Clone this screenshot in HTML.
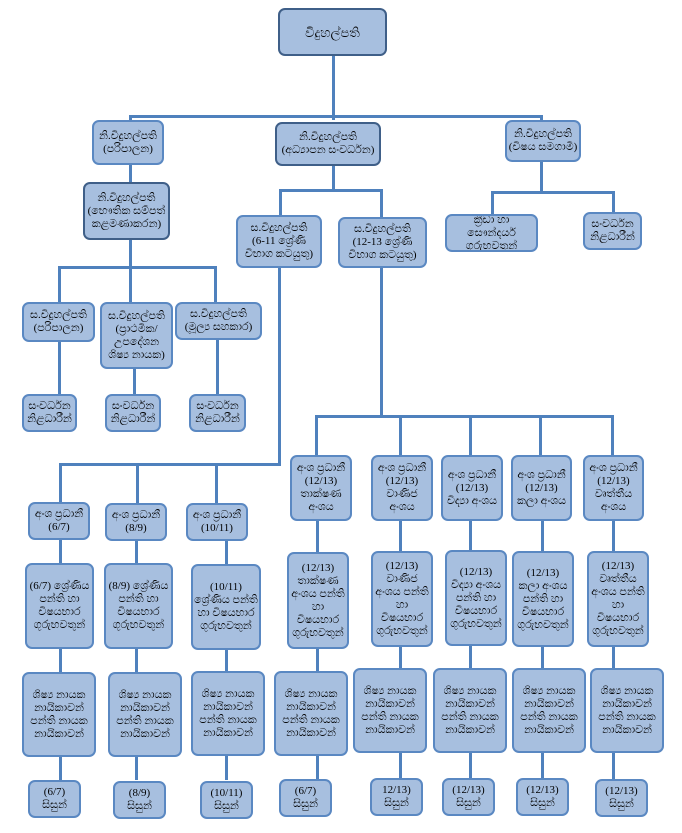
<!DOCTYPE html>
<html><head><meta charset="utf-8">
<style>
body{margin:0;width:682px;height:833px;background:#fff;position:relative;overflow:hidden;font-family:"Liberation Serif","Noto Sans CJK SC",serif;}
.b{position:absolute;box-sizing:border-box;background:#a7bfdf;border:2px solid #5a88c2;border-radius:7px;font-size:11px;line-height:13px;text-align:center;color:#000;display:flex;align-items:center;justify-content:center;overflow:hidden;padding:1px}
.d{border-color:#3f5f88;}
.l{position:absolute;background:#4f81bd;}
</style></head><body>
<div class="l" style="left:332px;top:55px;width:3px;height:65px"></div>
<div class="l" style="left:129px;top:115px;width:414px;height:3px"></div>
<div class="l" style="left:129px;top:115px;width:3px;height:7px"></div>
<div class="l" style="left:540px;top:115px;width:3px;height:7px"></div>
<div class="l" style="left:129px;top:164px;width:3px;height:20px"></div>
<div class="l" style="left:129px;top:240px;width:3px;height:28px"></div>
<div class="l" style="left:58px;top:266px;width:159px;height:3px"></div>
<div class="l" style="left:58px;top:266px;width:3px;height:37px"></div>
<div class="l" style="left:129px;top:266px;width:3px;height:37px"></div>
<div class="l" style="left:214px;top:266px;width:3px;height:37px"></div>
<div class="l" style="left:58px;top:342px;width:3px;height:54px"></div>
<div class="l" style="left:133px;top:369px;width:3px;height:27px"></div>
<div class="l" style="left:216px;top:340px;width:3px;height:56px"></div>
<div class="l" style="left:332px;top:165px;width:3px;height:26px"></div>
<div class="l" style="left:279px;top:189px;width:104px;height:3px"></div>
<div class="l" style="left:279px;top:189px;width:3px;height:27px"></div>
<div class="l" style="left:380px;top:189px;width:3px;height:29px"></div>
<div class="l" style="left:540px;top:162px;width:3px;height:31px"></div>
<div class="l" style="left:491px;top:191px;width:124px;height:3px"></div>
<div class="l" style="left:491px;top:191px;width:3px;height:25px"></div>
<div class="l" style="left:612px;top:191px;width:3px;height:23px"></div>
<div class="l" style="left:278px;top:267px;width:3px;height:198px"></div>
<div class="l" style="left:59px;top:463px;width:222px;height:3px"></div>
<div class="l" style="left:59px;top:463px;width:3px;height:40px"></div>
<div class="l" style="left:136px;top:463px;width:3px;height:40px"></div>
<div class="l" style="left:215px;top:463px;width:3px;height:40px"></div>
<div class="l" style="left:380px;top:267px;width:3px;height:150px"></div>
<div class="l" style="left:315px;top:415px;width:299px;height:3px"></div>
<div class="l" style="left:315px;top:415px;width:3px;height:41px"></div>
<div class="l" style="left:399px;top:415px;width:3px;height:41px"></div>
<div class="l" style="left:469px;top:415px;width:3px;height:41px"></div>
<div class="l" style="left:539px;top:415px;width:3px;height:41px"></div>
<div class="l" style="left:611px;top:415px;width:3px;height:41px"></div>
<div class="l" style="left:59px;top:538px;width:3px;height:242px"></div>
<div class="l" style="left:135px;top:540px;width:3px;height:240px"></div>
<div class="l" style="left:225px;top:540px;width:3px;height:240px"></div>
<div class="l" style="left:316px;top:519px;width:3px;height:260px"></div>
<div class="l" style="left:399px;top:519px;width:3px;height:260px"></div>
<div class="l" style="left:469px;top:519px;width:3px;height:260px"></div>
<div class="l" style="left:541px;top:519px;width:3px;height:260px"></div>
<div class="l" style="left:612px;top:519px;width:3px;height:260px"></div>

<div class="b d" style="left:278px;top:8px;width:109px;height:48px;font-size:13px">විදුහල්පති</div>
<div class="b" style="left:92px;top:120px;width:72px;height:45px">නි.විදුහල්පති<br>(පරිපාලන)</div>
<div class="b d" style="left:275px;top:122px;width:106px;height:44px">නි.විදුහල්පති<br>(අධ්‍යාපන සංවර්ධන)</div>
<div class="b" style="left:505px;top:120px;width:76px;height:42px">නි.විදුහල්පති<br>(විෂය සමගාමී)</div>
<div class="b d" style="left:83px;top:182px;width:87px;height:58px">නි.විදුහල්පති<br>(භෞතික සම්පත් කළමණාකරන)</div>
<div class="b" style="left:236px;top:215px;width:86px;height:53px">ස.විදුහල්පති<br>(6-11 ශ්‍රේණි විභාග කටයුතු)</div>
<div class="b" style="left:338px;top:217px;width:89px;height:51px">ස.විදුහල්පති<br>(12-13 ශ්‍රේණි විභාග කටයුතු)</div>
<div class="b" style="left:445px;top:214px;width:93px;height:38px">ක්‍රීඩා හා සෞන්දර්ය ගුරුභවතුන්</div>
<div class="b" style="left:583px;top:212px;width:59px;height:38px">සංවර්ධන නිළධාරීන්</div>
<div class="b" style="left:22px;top:302px;width:73px;height:40px">ස.විදුහල්පති<br>(පරිපාලන)</div>
<div class="b" style="left:100px;top:302px;width:73px;height:67px">ස.විදුහල්පති<br>(ප්‍රාථමික/ උපදේශන ශිෂ්‍ය නායක)</div>
<div class="b" style="left:175px;top:302px;width:87px;height:38px">ස.විදුහල්පති<br>(මූල්‍ය සහකාර)</div>
<div class="b" style="left:22px;top:394px;width:55px;height:38px">සංවර්ධන නිළධාරීන්</div>
<div class="b" style="left:105px;top:394px;width:56px;height:38px">සංවර්ධන නිළධාරීන්</div>
<div class="b" style="left:189px;top:394px;width:57px;height:38px">සංවර්ධන නිළධාරීන්</div>

<div class="b" style="left:28px;top:502px;width:62px;height:38px">අංශ ප්‍රධානී<br>(6/7)</div>
<div class="b" style="left:105px;top:503px;width:62px;height:38px">අංශ ප්‍රධානී<br>(8/9)</div>
<div class="b" style="left:186px;top:503px;width:62px;height:38px">අංශ ප්‍රධානී<br>(10/11)</div>
<div class="b" style="left:290px;top:455px;width:62px;height:66px">අංශ ප්‍රධානී (12/13) තාක්ෂණ අංශය</div>
<div class="b" style="left:371px;top:455px;width:62px;height:66px">අංශ ප්‍රධානී (12/13) වාණිජ අංශය</div>
<div class="b" style="left:441px;top:455px;width:62px;height:66px">අංශ ප්‍රධානී (12/13) විද්‍යා අංශය</div>
<div class="b" style="left:511px;top:455px;width:61px;height:66px">අංශ ප්‍රධානී (12/13) කලා අංශය</div>
<div class="b" style="left:583px;top:455px;width:61px;height:66px">අංශ ප්‍රධානී (12/13) වෘත්තීය අංශය</div>

<div class="b" style="left:25px;top:563px;width:69px;height:86px">(6/7) ශ්‍රේණිය පන්ති හා විෂයභාර ගුරුභවතුන්</div>
<div class="b" style="left:104px;top:563px;width:69px;height:86px">(8/9) ශ්‍රේණිය පන්ති හා විෂයභාර ගුරුභවතුන්</div>
<div class="b" style="left:191px;top:564px;width:70px;height:86px">(10/11) ශ්‍රේණිය පන්ති හා විෂයභාර ගුරුභවතුන්</div>
<div class="b" style="left:287px;top:552px;width:62px;height:97px">(12/13) තාක්ෂණ අංශය පන්ති හා විෂයභාර ගුරුභවතුන්</div>
<div class="b" style="left:371px;top:551px;width:62px;height:96px">(12/13) වාණිජ අංශය පන්ති හා විෂයභාර ගුරුභවතුන්</div>
<div class="b" style="left:445px;top:550px;width:62px;height:96px">(12/13) විද්‍යා අංශය පන්ති හා විෂයභාර ගුරුභවතුන්</div>
<div class="b" style="left:512px;top:551px;width:62px;height:96px">(12/13) කලා අංශය පන්ති හා විෂයභාර ගුරුභවතුන්</div>
<div class="b" style="left:587px;top:551px;width:62px;height:96px">(12/13) වෘත්තීය අංශය පන්ති හා විෂයභාර ගුරුභවතුන්</div>

<div class="b" style="left:22px;top:672px;width:74px;height:85px">ශිෂ්‍ය නායක නායිකාවන් පන්ති නායක නායිකාවන්</div>
<div class="b" style="left:108px;top:672px;width:74px;height:85px">ශිෂ්‍ය නායක නායිකාවන් පන්ති නායක නායිකාවන්</div>
<div class="b" style="left:191px;top:671px;width:74px;height:85px">ශිෂ්‍ය නායක නායිකාවන් පන්ති නායක නායිකාවන්</div>
<div class="b" style="left:274px;top:671px;width:74px;height:85px">ශිෂ්‍ය නායක නායිකාවන් පන්ති නායක නායිකාවන්</div>
<div class="b" style="left:353px;top:668px;width:74px;height:85px">ශිෂ්‍ය නායක නායිකාවන් පන්ති නායක නායිකාවන්</div>
<div class="b" style="left:433px;top:668px;width:74px;height:85px">ශිෂ්‍ය නායක නායිකාවන් පන්ති නායක නායිකාවන්</div>
<div class="b" style="left:512px;top:668px;width:74px;height:85px">ශිෂ්‍ය නායක නායිකාවන් පන්ති නායක නායිකාවන්</div>
<div class="b" style="left:590px;top:668px;width:74px;height:85px">ශිෂ්‍ය නායක නායිකාවන් පන්ති නායක නායිකාවන්</div>

<div class="b" style="left:28px;top:780px;width:53px;height:38px">(6/7)<br>සිසුන්</div>
<div class="b" style="left:113px;top:781px;width:53px;height:38px">(8/9)<br>සිසුන්</div>
<div class="b" style="left:200px;top:781px;width:53px;height:38px">(10/11)<br>සිසුන්</div>
<div class="b" style="left:279px;top:779px;width:53px;height:38px">(6/7)<br>සිසුන්</div>
<div class="b" style="left:370px;top:778px;width:53px;height:38px">12/13)<br>සිසුන්</div>
<div class="b" style="left:442px;top:778px;width:53px;height:38px">(12/13)<br>සිසුන්</div>
<div class="b" style="left:516px;top:778px;width:53px;height:38px">(12/13)<br>සිසුන්</div>
<div class="b" style="left:595px;top:779px;width:53px;height:38px">(12/13)<br>සිසුන්</div>
</body></html>
